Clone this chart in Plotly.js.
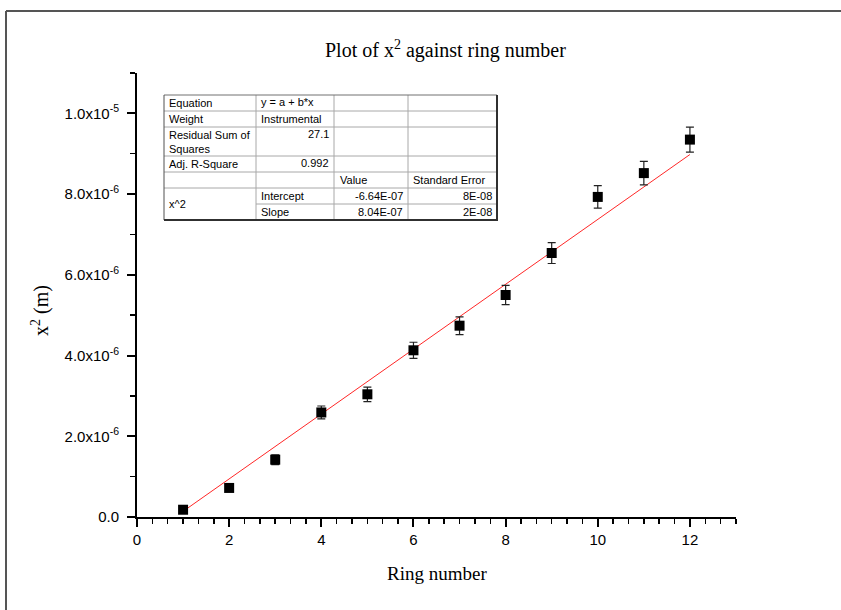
<!DOCTYPE html>
<html>
<head>
<meta charset="utf-8">
<script src="https://cdn.plot.ly/plotly-3.0.1.min.js"></script>
<style>html,body{margin:0;padding:0;background:#fff;}#chart{width:841px;height:610px;}</style>
</head>
<body>
<div id="chart"></div>
<script>
// ---- data ----
const ringNumber = [1, 2, 3, 4, 5, 6, 7, 8, 9, 10, 11, 12];
const x2Values = [0.18e-6, 0.72e-6, 1.42e-6, 2.59e-6, 3.04e-6, 4.13e-6, 4.74e-6, 5.50e-6, 6.54e-6, 7.93e-6, 8.52e-6, 9.35e-6];
const x2Errors = [0.04e-6, 0.085e-6, 0.12e-6, 0.16e-6, 0.18e-6, 0.20e-6, 0.22e-6, 0.24e-6, 0.26e-6, 0.28e-6, 0.29e-6, 0.31e-6];
const fitX = [1, 12];
const fitY = [0.14e-6, 8.98e-6];
const xTickVals = [0, 2, 4, 6, 8, 10, 12];
const yTickVals = [0, 2e-6, 4e-6, 6e-6, 8e-6, 1e-5];
const yTickText = ["0.0", "2.0x10<sup>-6</sup>", "4.0x10<sup>-6</sup>", "6.0x10<sup>-6</sup>", "8.0x10<sup>-6</sup>", "1.0x10<sup>-5</sup>"];
const tableLabels = ["Equation", "Weight", "Residual Sum of<br>Squares", "Adj. R-Square"];
const tableLabelValues = ["y = a + b*x", "Instrumental", "27.1", "0.992"];
const tableHeader = ["Value", "Standard Error"];
const paramGroup = "x^2";
const paramNames = ["Intercept", "Slope"];
const paramValues = ["-6.64E-07", "8.04E-07"];
const paramErrors = ["8E-08", "2E-08"];

// ---- geometry helpers (pixel -> paper) ----
const L = 137, R = 736, T = 73, B = 517;
const px = p => (p - L) / (R - L);
const py = p => (B - p) / (B - T);

const sans = 'Liberation Sans, Arial, sans-serif';
const serif = 'Liberation Serif, Times New Roman, serif';

const traces = [
  {
    x: fitX, y: fitY, type: 'scatter', mode: 'lines',
    line: {color: 'rgba(255,0,0,0.85)', width: 1}, hoverinfo: 'skip', showlegend: false
  },
  {
    x: ringNumber, y: x2Values, type: 'scatter', mode: 'markers',
    marker: {symbol: 'square', size: 10, color: '#000'},
    error_y: {type: 'data', array: x2Errors, visible: true, color: '#222', thickness: 1.2, width: 4},
    showlegend: false
  }
];

const shapes = [];
const annotations = [];

// outer frame (top and left)
shapes.push({type: 'line', xref: 'paper', yref: 'paper', x0: px(6), x1: px(845), y0: py(11), y1: py(11), line: {color: '#555', width: 2}});
shapes.push({type: 'line', xref: 'paper', yref: 'paper', x0: px(6), x1: px(6), y0: py(11), y1: py(615), line: {color: '#555', width: 2}});

// table
const c = [164, 256, 334, 408, 497];
const r = [95, 111, 127, 156, 172, 188, 204, 220];
const grid = '#a8a8a8';
function hl(y, x0, x1, col, w) { shapes.push({type: 'line', xref: 'paper', yref: 'paper', x0: px(x0), x1: px(x1), y0: py(y), y1: py(y), line: {color: col, width: w}}); }
function vl(x, y0, y1, col, w) { shapes.push({type: 'line', xref: 'paper', yref: 'paper', x0: px(x), x1: px(x), y0: py(y0), y1: py(y1), line: {color: col, width: w}}); }
shapes.push({type: 'rect', xref: 'paper', yref: 'paper', x0: px(c[0]), x1: px(c[4]), y0: py(r[0]), y1: py(r[7]), fillcolor: '#fff', line: {width: 0}, layer: 'above'});
[1, 2, 3, 4, 5].forEach(i => hl(r[i], c[0], c[4], grid, 1));
hl(r[6], c[1], c[4], grid, 1);
[1, 2, 3].forEach(i => vl(c[i], r[0], r[7], grid, 1));
hl(r[0], c[0], c[4], '#707070', 1);
vl(c[0], r[0], r[7], '#505050', 1);
hl(r[7], c[0] , c[4] + 1, '#303030', 2);
vl(c[4], r[0], r[7] + 1, '#303030', 2);

function txt(s, x, y, anchor) {
  annotations.push({text: s, xref: 'paper', yref: 'paper', x: px(x), y: py(y), xanchor: anchor, yanchor: 'middle',
    showarrow: false, font: {family: sans, size: 11, color: '#000'}, align: 'left'});
}
const rowMid = i => (r[i] + r[i + 1]) / 2;
tableLabels.forEach((s, i) => txt(s, c[0] + 3, rowMid(i), 'left'));
txt(tableLabelValues[0], c[1] + 3, rowMid(0) - 1, 'left');
txt(tableLabelValues[1], c[1] + 3, rowMid(1), 'left');
txt(tableLabelValues[2], c[2] - 3, r[2] + 7, 'right');
txt(tableLabelValues[3], c[2] - 3, rowMid(3) - 1, 'right');
txt(tableHeader[0], c[2] + 4, rowMid(4), 'left');
txt(tableHeader[1], c[3] + 3, rowMid(4), 'left');
txt(paramGroup, c[0] + 3, r[6], 'left');
paramNames.forEach((s, i) => {
  txt(s, c[1] + 3, rowMid(5 + i), 'left');
  txt(paramValues[i], c[3] - 3, rowMid(5 + i), 'right');
  txt(paramErrors[i], c[4] - 3, rowMid(5 + i), 'right');
});

// titles
annotations.push({text: 'Plot of x<sup>2</sup> against ring number', xref: 'paper', yref: 'paper', x: px(445), y: py(50),
  xanchor: 'center', yanchor: 'middle', showarrow: false, font: {family: serif, size: 20, color: '#000'}});
annotations.push({text: 'Ring number', xref: 'paper', yref: 'paper', x: px(437), y: py(573),
  xanchor: 'center', yanchor: 'middle', showarrow: false, font: {family: serif, size: 19, color: '#000'}});
annotations.push({text: 'x<sup>2</sup> (m)', xref: 'paper', yref: 'paper', x: px(40), y: py(311), textangle: -90,
  xanchor: 'center', yanchor: 'middle', showarrow: false, font: {family: serif, size: 20, color: '#000'}});

const layout = {
  width: 841, height: 610,
  margin: {l: L, r: 841 - R, t: T, b: 610 - B, pad: 0},
  paper_bgcolor: '#fff', plot_bgcolor: '#fff',
  showlegend: false,
  xaxis: {
    range: [0, 13], tickvals: xTickVals, ticktext: xTickVals.map(String),
    showgrid: false, zeroline: false, showline: true, linecolor: '#000', linewidth: 2,
    ticks: 'outside', ticklen: 8, tickwidth: 2, tickcolor: '#000',
    minor: {dtick: 1 / 3, tick0: 0, ticks: 'outside', ticklen: 5, tickwidth: 1.5, tickcolor: '#000', showgrid: false},
    tickfont: {family: sans, size: 15, color: '#000'}
  },
  yaxis: {
    range: [0, 1.1e-5], tickvals: yTickVals, ticktext: yTickText,
    showgrid: false, zeroline: false, showline: true, linecolor: '#000', linewidth: 2,
    ticks: 'outside', ticklen: 8, tickwidth: 2, tickcolor: '#000', ticklabelstandoff: 5,
    minor: {dtick: 1e-6, tick0: 0, ticks: 'outside', ticklen: 5, tickwidth: 1.5, tickcolor: '#000', showgrid: false},
    tickfont: {family: sans, size: 15, color: '#000'}
  },
  shapes: shapes,
  annotations: annotations
};

Plotly.newPlot('chart', traces, layout, {displayModeBar: false, staticPlot: true});
</script>
</body>
</html>
